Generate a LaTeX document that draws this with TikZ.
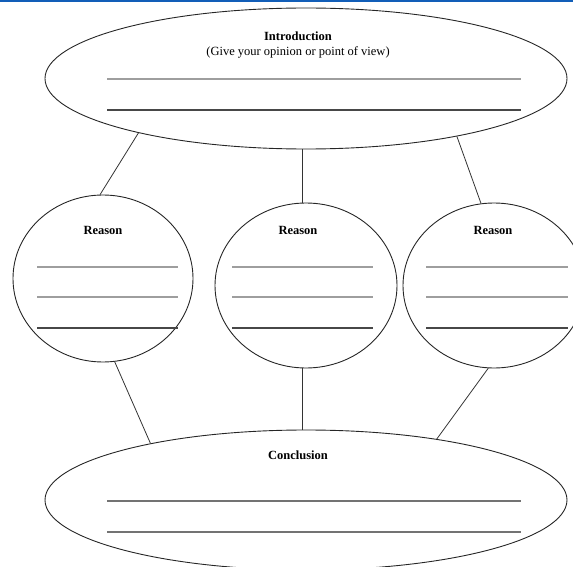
\documentclass[tikz,border=0pt]{standalone}
\usepackage{fontspec}
\setmainfont{Liberation Serif}
\usetikzlibrary{shapes.geometric}
\definecolor{topblue}{RGB}{18,94,184}
\begin{document}
\begin{tikzpicture}[x=1pt,y=-1pt,
  bubble/.style={draw=black!85, line width=0.9pt, ellipse, inner sep=0pt},
  link/.style={draw=black!80, line width=0.8pt},
  title/.style={font=\bfseries\fontsize{12.5}{14}\selectfont, inner sep=0pt},
  sub/.style={font=\fontsize{12.5}{14}\selectfont, inner sep=0pt},
  lightrule/.style={draw=black!38, line width=1.3pt},
  darkrule/.style={draw=black!72, line width=1.1pt},
  midrule/.style={draw=black!55, line width=1.1pt}]
\useasboundingbox (0,0) rectangle (573,567);
\clip (0,0) rectangle (573,567);
\fill[topblue] (0,0) rectangle (573,2.5);

% Introduction
\node[bubble, minimum width=522pt, minimum height=141pt] (intro) at (306,78.5) {};
\node[title] (introT) at (298,36) {Introduction};
\node[sub] (introS) at (298,52) {(Give your opinion or point of view)};
\draw[lightrule] (107,79) -- (521,79);
\draw[darkrule] (107,110) -- (521,110);

% Reasons
\node[bubble, minimum width=180pt, minimum height=167pt] (r1) at (103,278.5) {};
\node[bubble, minimum width=182pt, minimum height=165pt] (r2) at (306,285.5) {};
\node[bubble, minimum width=182pt, minimum height=165pt] (r3) at (494,285.5) {};
\node[title] (r1T) at (103,230) {Reason};
\node[title] (r2T) at (298,230) {Reason};
\node[title] (r3T) at (493,230) {Reason};
\foreach \xa/\xb in {37/178, 232/373, 426/568}{
  \draw[lightrule] (\xa,267) -- (\xb,267);
  \draw[lightrule] (\xa,297) -- (\xb,297);
  \draw[darkrule] (\xa,328) -- (\xb,328);
}

% Conclusion
\node[bubble, minimum width=522pt, minimum height=140pt] (concl) at (306,500) {};
\node[title] (conclT) at (298,455) {Conclusion};
\draw[midrule] (107,501) -- (521,501);
\draw[midrule] (107,532) -- (521,532);

% Connectors
\coordinate (axis) at (302,0);
\draw[link] (intro.198) -- (r1.92);
\draw[link] (intro.south -| axis) -- (r2.north -| axis);
\draw[link] (intro.339) -- (r3.99);
\draw[link] (r1.278) -- (concl.160);
\draw[link] (r2.south -| axis) -- (concl.north -| axis);
\draw[link] (r3.266) -- (concl.25);
\end{tikzpicture}
\end{document}
